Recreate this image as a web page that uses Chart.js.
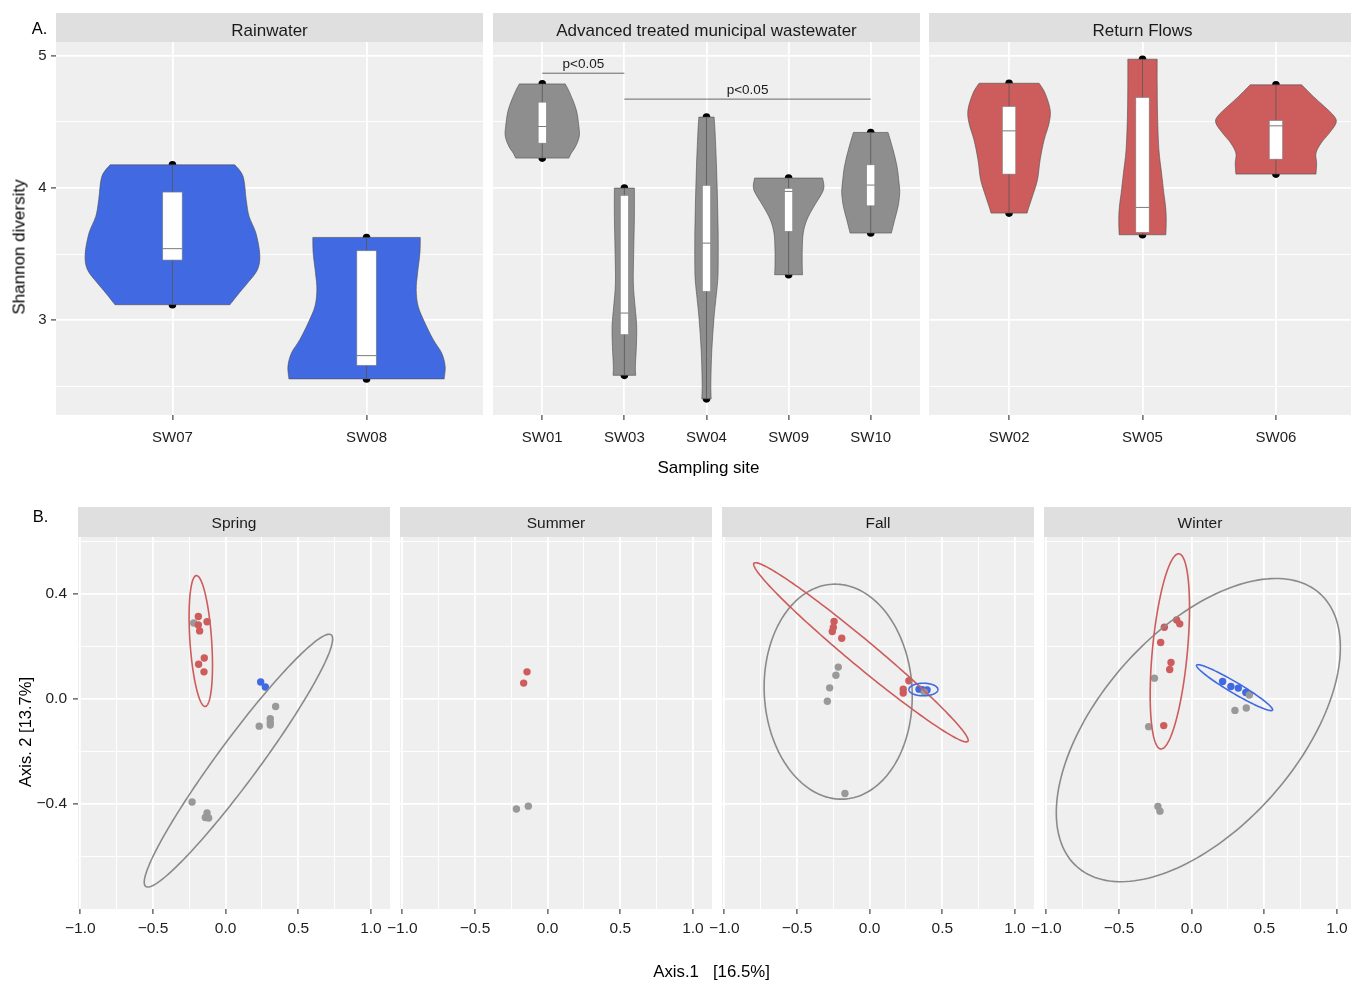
<!DOCTYPE html>
<html>
<head>
<meta charset="utf-8">
<script src="https://cdn.jsdelivr.net/npm/chart.js@4.4.1/dist/chart.umd.min.js"></script>
<style>
  html, body { margin: 0; padding: 0; background: #ffffff; overflow: hidden; }
  #wrap { position: relative; width: 1351px; height: 982px; overflow: hidden;
          font-family: "Liberation Sans", Arial, Helvetica, sans-serif; }
  .strip { position: absolute; background: #DFDFDF; z-index: 0; }
  canvas { position: absolute; z-index: 1; }
  .lbl { position: absolute; z-index: 2; line-height: 1; white-space: pre; color: #000; }
</style>
</head>
<body>
<div id="wrap"></div>
<script>
const FONT = "'Liberation Sans', Arial, Helvetica, sans-serif";

// ---------- A. Shannon diversity by sampling site ----------
// Rainwater
const rainSites = ['SW07', 'SW08'];
const rainMin = [3.118, 2.557];
const rainQ1 = [3.456, 2.660];
const rainMedian = [3.542, 2.733];
const rainQ3 = [3.970, 3.526];
const rainMax = [4.176, 3.627];
// violin outlines: [Shannon diversity, half width in site units], from max down to min
const violinSW07 = [[4.176,0.321],[4.088,0.364],[3.912,0.380],[3.786,0.395],[3.660,0.430],[3.496,0.450],[3.383,0.438],[3.282,0.387],[3.207,0.344],[3.118,0.296]];
const violinSW08 = [[3.627,0.277],[3.509,0.275],[3.358,0.263],[3.232,0.256],[3.106,0.266],[2.980,0.301],[2.854,0.344],[2.753,0.387],[2.652,0.405],[2.557,0.400]];

// Advanced treated municipal wastewater
const atmwSites = ['SW01', 'SW03', 'SW04', 'SW09', 'SW10'];
const atmwMin = [4.227, 2.584, 2.406, 3.345, 3.660];
const atmwQ1 = [4.340, 2.892, 3.219, 3.673, 3.866];
const atmwMedian = [4.466, 3.055, 3.584, 3.975, 4.023];
const atmwQ3 = [4.650, 3.945, 4.020, 3.998, 4.176];
const atmwMax = [4.788, 4.000, 4.537, 4.076, 4.421];
const violinSW01 = [[4.788,0.280],[4.718,0.337],[4.592,0.414],[4.466,0.446],[4.390,0.450],[4.315,0.406],[4.264,0.353],[4.227,0.324]];
const violinSW03 = [[4.000,0.122],[3.786,0.122],[3.534,0.114],[3.282,0.109],[3.106,0.130],[2.955,0.150],[2.804,0.146],[2.652,0.134],[2.584,0.138]];
const violinSW04 = [[4.537,0.093],[4.416,0.105],[4.164,0.122],[3.912,0.134],[3.660,0.142],[3.408,0.142],[3.282,0.134],[3.030,0.093],[2.778,0.065],[2.526,0.053],[2.406,0.057]];
const violinSW09 = [[4.076,0.414],[4.013,0.430],[3.962,0.406],[3.861,0.308],[3.761,0.223],[3.660,0.178],[3.534,0.166],[3.408,0.166],[3.345,0.170]];
const violinSW10 = [[4.421,0.211],[4.290,0.272],[4.164,0.320],[4.038,0.345],[3.962,0.353],[3.861,0.333],[3.761,0.292],[3.660,0.251]];
// pairwise comparisons
const sigFrom = [1, 2];
const sigTo = [2, 5];
const sigLevel = [4.869, 4.673];
const sigText = ['p<0.05', 'p<0.05'];

// Return Flows
const rfSites = ['SW02', 'SW05', 'SW06'];
const rfMin = [3.811, 3.647, 4.106];
const rfQ1 = [4.106, 3.665, 4.219];
const rfMedian = [4.433, 3.854, 4.471];
const rfQ3 = [4.617, 4.685, 4.511];
const rfMax = [4.793, 4.975, 4.781];
const violinSW02 = [[4.793,0.225],[4.718,0.270],[4.592,0.308],[4.491,0.300],[4.365,0.263],[4.214,0.233],[4.063,0.213],[3.937,0.175],[3.861,0.150],[3.811,0.135]];
const violinSW05 = [[4.975,0.110],[4.793,0.110],[4.542,0.113],[4.290,0.123],[4.113,0.143],[3.962,0.160],[3.861,0.173],[3.761,0.178],[3.647,0.175]];
const violinSW06 = [[4.781,0.193],[4.693,0.280],[4.617,0.363],[4.542,0.438],[4.491,0.450],[4.416,0.400],[4.340,0.338],[4.264,0.300],[4.189,0.305],[4.106,0.300]];

const diversityTicks = [2.5, 3, 3.5, 4, 4.5, 5];
const diversityLabelled = [3, 4, 5];

// ---------- B. PCoA ordination by season ----------
const springRedX = [-0.188, -0.128, -0.188, -0.179, -0.147, -0.186, -0.149];
const springRedY = [0.315, 0.295, 0.283, 0.260, 0.157, 0.133, 0.104];
const springGrayX = [-0.220, 0.344, 0.307, 0.307, 0.307, 0.231, -0.231, -0.128, -0.140, -0.117];
const springGrayY = [0.290, -0.028, -0.075, -0.089, -0.099, -0.103, -0.392, -0.434, -0.451, -0.453];
const springBlueX = [0.241, 0.273];
const springBlueY = [0.065, 0.046];

const summerRedX = [-0.142, -0.165];
const summerRedY = [0.104, 0.061];
const summerGrayX = [-0.133, -0.215];
const summerGrayY = [-0.408, -0.419];
const summerBlueX = [];
const summerBlueY = [];

const fallRedX = [-0.245, -0.250, -0.257, -0.192, 0.270, 0.231, 0.231];
const fallRedY = [0.296, 0.273, 0.258, 0.232, 0.070, 0.038, 0.023];
const fallGrayX = [-0.216, -0.232, -0.275, -0.291, -0.170, 0.376];
const fallGrayY = [0.122, 0.091, 0.043, -0.008, -0.360, 0.026];
const fallBlueX = [0.340, 0.362, 0.395];
const fallBlueY = [0.038, 0.036, 0.035];

const winterRedX = [-0.188, -0.103, -0.082, -0.213, -0.142, -0.151, -0.192];
const winterRedY = [0.274, 0.302, 0.287, 0.216, 0.140, 0.113, -0.101];
const winterGrayX = [-0.256, -0.296, -0.232, -0.218, 0.397, 0.298, 0.376];
const winterGrayY = [0.080, -0.105, -0.409, -0.427, 0.016, -0.043, -0.034];
const winterBlueX = [0.213, 0.270, 0.321, 0.373];
const winterBlueY = [0.067, 0.048, 0.042, 0.025];

// confidence ellipses: [centre x, centre y, axis-1 x, axis-1 y, axis-2 x, axis-2 y]
const springEllipseGray = [0.088, -0.2345, 0.638, 0.4795, 0.115, -0.047];
const springEllipseRed = [-0.171, 0.2215, -0.0306, 0.2495, 0.0745, 0.003];
const fallEllipseGray = [-0.2165, 0.0285, -0.0405, 0.4095, 0.508, 0.0155];
const fallEllipseRed = [-0.060, 0.1785, 0.736, -0.3395, 0.057, 0.038];
const fallEllipseBlue = [0.370, 0.0366, 0.0997, 0.0, 0.0, 0.024];
const winterEllipseGray = [0.046, -0.118, 0.835, 0.521, 0.508, -0.250];
const winterEllipseRed = [-0.150, 0.182, 0.0625, 0.372, 0.120, -0.0062];
const winterEllipseBlue = [0.2955, 0.0438, 0.261, -0.0857, -0.0192, -0.018];

const axis1Ticks = [-1, -0.75, -0.5, -0.25, 0, 0.25, 0.5, 0.75, 1];
const axis1Labelled = [-1, -0.5, 0, 0.5, 1];
const axis2Ticks = [-0.6, -0.4, -0.2, 0, 0.2, 0.4, 0.6];
const axis2Labelled = [-0.4, 0, 0.4];

// ---------- colours ----------
const RAIN = '#4169E1', ATMW = '#8E8E8E', RETURN = '#CD5C5C';
const PT_RED = '#CD5C5C', PT_GRAY = '#999999', PT_BLUE = '#4169E1';
const ELL_GRAY = '#8A8A8A';

// ---------- helpers ----------
const wrap = document.getElementById('wrap');
const PAD = 24;
const near = (arr, v) => arr.some(a => Math.abs(a - v) < 1e-6);
const fmt = v => (v < -1e-9 ? '\u2212' : '') + Math.abs(v).toFixed(1);

function addText(txt, cx, cy, size, rotate, color) {
  const d = document.createElement('div');
  d.className = 'lbl';
  d.textContent = txt;
  d.style.fontSize = size + 'px';
  d.style.left = cx + 'px';
  d.style.top = cy + 'px';
  d.style.transform = 'translate(-50%,-50%)' + (rotate ? ' rotate(' + rotate + 'deg)' : '');
  if (color) d.style.color = color;
  wrap.appendChild(d);
}
function addStrip(txt, left, top, w, h, size, dy) {
  const s = document.createElement('div');
  s.className = 'strip';
  s.style.left = left + 'px'; s.style.top = top + 'px';
  s.style.width = w + 'px'; s.style.height = h + 'px';
  wrap.appendChild(s);
  addText(txt, left + w / 2, top + h / 2 + dy, size, 0, '#1a1a1a');
}

function axis(o) {
  return {
    type: 'linear', min: o.min, max: o.max, bounds: 'data',
    afterBuildTicks: s => { s.ticks = o.ticks.map(v => ({ value: v })); },
    afterFit: s => { if (o.horizontal) s.height = o.size; else s.width = o.size; },
    border: { display: false },
    grid: {
      color: '#ffffff',
      lineWidth: c => (c.tick && near(o.major, c.tick.value)) ? 1.8 : 0.9,
      drawTicks: o.show,
      tickLength: 5,
      tickWidth: 1.1,
      tickColor: c => (c.tick && near(o.major, c.tick.value)) ? '#333333' : 'rgba(0,0,0,0)'
    },
    ticks: {
      display: o.show,
      autoSkip: false, maxRotation: 0, minRotation: 0,
      padding: o.pad,
      color: '#1e1e1e',
      font: { family: FONT, size: o.font },
      callback: v => near(o.labelled, v) ? o.label(v) : ''
    }
  };
}

const panelBackground = {
  id: 'panelBackground',
  beforeDraw(chart) {
    const a = chart.chartArea, ctx = chart.ctx;
    ctx.save();
    ctx.fillStyle = '#EFEFEF';
    ctx.fillRect(a.left, a.top, a.right - a.left, a.bottom - a.top);
    ctx.restore();
  }
};

function makePanel(plot, yAxisW, xAxisH, scales, datasets, drawExtra) {
  const c = document.createElement('canvas');
  const w = PAD + yAxisW + plot.w + PAD;
  const h = PAD + plot.h + xAxisH + PAD;
  c.width = w; c.height = h;
  c.style.width = w + 'px'; c.style.height = h + 'px';
  c.style.left = (plot.left - yAxisW - PAD) + 'px';
  c.style.top = (plot.top - PAD) + 'px';
  wrap.appendChild(c);
  return new Chart(c, {
    type: 'scatter',
    data: { datasets },
    options: {
      responsive: false, animation: false, events: [], devicePixelRatio: 1,
      layout: { padding: PAD },
      plugins: { legend: { display: false }, tooltip: { enabled: false } },
      scales
    },
    plugins: [panelBackground, { id: 'extra', afterDatasetsDraw: drawExtra }]
  });
}

// smooth curve through pixel points (current point must already be pts[0])
function spline(ctx, pts) {
  for (let i = 0; i < pts.length - 1; i++) {
    const p0 = pts[Math.max(i - 1, 0)], p1 = pts[i], p2 = pts[i + 1];
    const p3 = pts[Math.min(i + 2, pts.length - 1)];
    ctx.bezierCurveTo(
      p1[0] + (p2[0] - p0[0]) / 6, p1[1] + (p2[1] - p0[1]) / 6,
      p2[0] - (p3[0] - p1[0]) / 6, p2[1] - (p3[1] - p1[1]) / 6,
      p2[0], p2[1]);
  }
}

function clipArea(chart) {
  const a = chart.chartArea, ctx = chart.ctx;
  ctx.beginPath();
  ctx.rect(a.left, a.top, a.right - a.left, a.bottom - a.top);
  ctx.clip();
}

function drawViolins(chart, shapes, mins, q1, med, q3, maxs, fill) {
  const ctx = chart.ctx, x = chart.scales.x, y = chart.scales.y;
  ctx.save();
  clipArea(chart);
  shapes.forEach((shape, i) => {
    const pos = i + 1;
    const right = shape.map(r => [x.getPixelForValue(pos + r[1]), y.getPixelForValue(r[0])]);
    const left = shape.map(r => [x.getPixelForValue(pos - r[1]), y.getPixelForValue(r[0])]).reverse();
    ctx.beginPath();
    ctx.moveTo(left[left.length - 1][0], left[left.length - 1][1]);
    ctx.lineTo(right[0][0], right[0][1]);
    spline(ctx, right);
    ctx.lineTo(left[0][0], left[0][1]);
    spline(ctx, left);
    ctx.closePath();
    ctx.fillStyle = fill;
    ctx.fill();
    ctx.strokeStyle = '#4d4d4d';
    ctx.lineWidth = 0.6;
    ctx.stroke();

    const cx = x.getPixelForValue(pos);
    // whisker
    ctx.beginPath();
    ctx.moveTo(cx, y.getPixelForValue(maxs[i]));
    ctx.lineTo(cx, y.getPixelForValue(mins[i]));
    ctx.strokeStyle = '#555555';
    ctx.lineWidth = 0.8;
    ctx.stroke();
    // box
    const bx0 = x.getPixelForValue(pos - 0.05), bx1 = x.getPixelForValue(pos + 0.05);
    const by0 = y.getPixelForValue(q3[i]), by1 = y.getPixelForValue(q1[i]);
    ctx.fillStyle = '#ffffff';
    ctx.fillRect(bx0, by0, bx1 - bx0, by1 - by0);
    ctx.strokeStyle = '#808080';
    ctx.lineWidth = 0.6;
    ctx.strokeRect(bx0, by0, bx1 - bx0, by1 - by0);
    const my = y.getPixelForValue(med[i]);
    ctx.beginPath();
    ctx.moveTo(bx0, my); ctx.lineTo(bx1, my);
    ctx.strokeStyle = '#7a7a7a';
    ctx.lineWidth = 1;
    ctx.stroke();
  });
  ctx.restore();
}

function drawSignificance(chart) {
  const ctx = chart.ctx, x = chart.scales.x, y = chart.scales.y;
  ctx.save();
  sigFrom.forEach((f, i) => {
    const x0 = x.getPixelForValue(f), x1 = x.getPixelForValue(sigTo[i]);
    const py = y.getPixelForValue(sigLevel[i]);
    ctx.beginPath();
    ctx.moveTo(x0, py); ctx.lineTo(x1, py);
    ctx.strokeStyle = '#444444';
    ctx.lineWidth = 0.8;
    ctx.stroke();
    ctx.fillStyle = '#1a1a1a';
    ctx.font = '13.5px ' + FONT;
    ctx.textAlign = 'center';
    ctx.textBaseline = 'alphabetic';
    ctx.fillText(sigText[i], (x0 + x1) / 2, py - 5);
  });
  ctx.restore();
}

function drawEllipses(chart, list) {
  const ctx = chart.ctx, x = chart.scales.x, y = chart.scales.y;
  ctx.save();
  clipArea(chart);
  list.forEach(([e, color]) => {
    const [cx, cy, ux, uy, vx, vy] = e;
    ctx.beginPath();
    for (let k = 0; k <= 180; k++) {
      const t = k / 180 * 2 * Math.PI;
      const px = x.getPixelForValue(cx + ux * Math.cos(t) + vx * Math.sin(t));
      const py = y.getPixelForValue(cy + uy * Math.cos(t) + vy * Math.sin(t));
      if (k === 0) ctx.moveTo(px, py); else ctx.lineTo(px, py);
    }
    ctx.closePath();
    ctx.strokeStyle = color;
    ctx.lineWidth = 1.6;
    ctx.stroke();
  });
  ctx.restore();
}

// ---------- A: violin panels ----------
const TOP = { top: 42, h: 373 };
const topPanels = [
  { title: 'Rainwater', left: 56, sites: rainSites, shapes: [violinSW07, violinSW08],
    min: rainMin, q1: rainQ1, med: rainMedian, q3: rainQ3, max: rainMax, fill: RAIN },
  { title: 'Advanced treated municipal wastewater', left: 493, sites: atmwSites,
    shapes: [violinSW01, violinSW03, violinSW04, violinSW09, violinSW10],
    min: atmwMin, q1: atmwQ1, med: atmwMedian, q3: atmwQ3, max: atmwMax, fill: ATMW, sig: true },
  { title: 'Return Flows', left: 929, sites: rfSites, shapes: [violinSW02, violinSW05, violinSW06],
    min: rfMin, q1: rfQ1, med: rfMedian, q3: rfQ3, max: rfMax, fill: RETURN }
];

topPanels.forEach((p, k) => {
  addStrip(p.title, p.left, 13, 427, 29, 17, 2.2);
  const n = p.sites.length;
  const positions = p.sites.map((s, i) => i + 1);
  const first = k === 0;
  const scales = {
    x: axis({ horizontal: true, size: 40, min: 0.4, max: n + 0.6, ticks: positions,
              major: positions, labelled: positions, label: v => p.sites[Math.round(v) - 1],
              show: true, pad: 9, font: 15 }),
    y: axis({ horizontal: false, size: first ? 56 : 0, min: 2.284, max: 5.105,
              ticks: diversityTicks, major: diversityLabelled, labelled: diversityLabelled,
              label: v => String(v), show: first, pad: 4.3, font: 15 })
  };
  const dots = positions.map((pos, i) => ({ x: pos, y: p.min[i] }))
    .concat(positions.map((pos, i) => ({ x: pos, y: p.max[i] })));
  const datasets = [{
    data: dots, pointRadius: 3.8, pointBackgroundColor: '#000000', pointBorderWidth: 0,
    backgroundColor: '#000000', borderWidth: 0
  }];
  makePanel({ left: p.left, top: TOP.top, w: 427, h: TOP.h }, first ? 56 : 0, 40, scales, datasets,
    chart => {
      drawViolins(chart, p.shapes, p.min, p.q1, p.med, p.q3, p.max, p.fill);
      if (p.sig) drawSignificance(chart);
    });
});

// ---------- B: ordination panels ----------
const BOT = { top: 537, h: 372 };
const bottomPanels = [
  { title: 'Spring', left: 78,
    red: [springRedX, springRedY], gray: [springGrayX, springGrayY], blue: [springBlueX, springBlueY],
    ellipses: [[springEllipseGray, ELL_GRAY], [springEllipseRed, PT_RED]] },
  { title: 'Summer', left: 400,
    red: [summerRedX, summerRedY], gray: [summerGrayX, summerGrayY], blue: [summerBlueX, summerBlueY],
    ellipses: [] },
  { title: 'Fall', left: 722,
    red: [fallRedX, fallRedY], gray: [fallGrayX, fallGrayY], blue: [fallBlueX, fallBlueY],
    ellipses: [[fallEllipseGray, ELL_GRAY], [fallEllipseRed, PT_RED], [fallEllipseBlue, PT_BLUE]] },
  { title: 'Winter', left: 1044,
    red: [winterRedX, winterRedY], gray: [winterGrayX, winterGrayY], blue: [winterBlueX, winterBlueY],
    ellipses: [[winterEllipseGray, ELL_GRAY], [winterEllipseRed, PT_RED], [winterEllipseBlue, PT_BLUE]] }
];

const pts = (xs, ys) => xs.map((v, i) => ({ x: v, y: ys[i] }));
const pointSet = (xy, color) => ({
  data: pts(xy[0], xy[1]), pointRadius: 3.7, pointBackgroundColor: color,
  pointBorderWidth: 0, backgroundColor: color, borderWidth: 0
});

bottomPanels.forEach((p, k) => {
  addStrip(p.title, p.left, 507, 312, 30, 15.5, 1.4);
  const first = k === 0;
  const scales = {
    x: axis({ horizontal: true, size: 40, min: -1.016, max: 1.131, ticks: axis1Ticks,
              major: axis1Labelled, labelled: axis1Labelled, label: fmt, show: true, pad: 5.2, font: 15.5 }),
    y: axis({ horizontal: false, size: first ? 78 : 0, min: -0.8, max: 0.618, ticks: axis2Ticks,
              major: axis2Labelled, labelled: axis2Labelled, label: fmt, show: first, pad: 6, font: 15.5 })
  };
  // first dataset is drawn on top
  const datasets = [pointSet(p.red, PT_RED), pointSet(p.gray, PT_GRAY), pointSet(p.blue, PT_BLUE)];
  makePanel({ left: p.left, top: BOT.top, w: 312, h: BOT.h }, first ? 78 : 0, 40, scales, datasets,
    chart => drawEllipses(chart, p.ellipses));
});

// ---------- titles ----------
addText('A.', 39.5, 27.5, 16.5);
addText('B.', 40.5, 516, 16.5);
addText('Shannon diversity', 19, 247, 17, -90);
addText('Sampling site', 708.5, 466.7, 17);
addText('Axis. 2 [13.7%]', 25, 732, 16.5, -90);
addText('Axis.1   [16.5%]', 711.5, 972, 16.8);
</script>
</body>
</html>
